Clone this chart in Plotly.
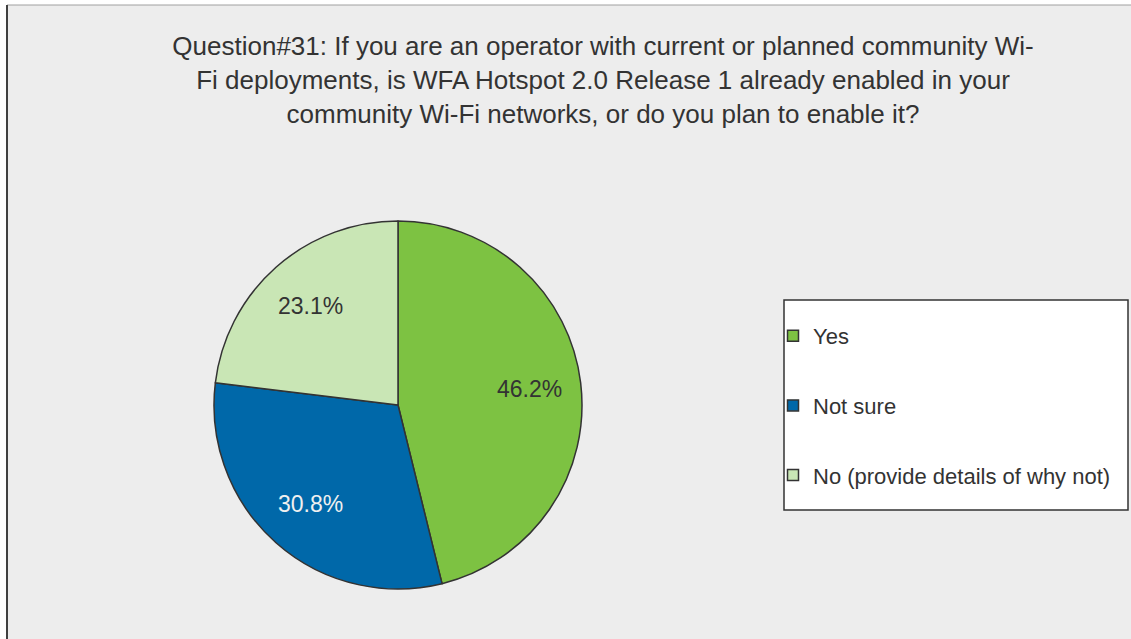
import math
import plotly.graph_objects as go

# ---- data ----
labels = ["Yes", "Not sure", "No (provide details of why not)"]
values = [46.2, 30.8, 23.1]
colors = ["#7DC242", "#0068A9", "#C9E6B5"]
text_colors = ["#333333", "#F0F0F0", "#333333"]
title_text = ("Question#31: If you are an operator with current or planned community Wi-<br>"
              "Fi deployments, is WFA Hotspot 2.0 Release 1 already enabled in your<br>"
              "community Wi-Fi networks, or do you plan to enable it?")

W, H = 1131, 639
FONT = "Liberation Sans, Arial, sans-serif"

def px_x(x):
    return x / W

def px_y(y):
    return 1 - y / H

cx, cy, r = 398, 405, 184

fig = go.Figure()
fig.add_trace(go.Pie(
    labels=labels,
    values=values,
    sort=False,
    direction="clockwise",
    rotation=0,
    marker=dict(colors=colors, line=dict(color="#333333", width=1.5)),
    textinfo="none",
    showlegend=False,
    hoverinfo="label+percent",
    domain=dict(x=[px_x(cx - r), px_x(cx + r)], y=[px_y(cy + r), px_y(cy - r)]),
))

# slice labels placed along each slice's bisector (derived from the values)
total = sum(values)
annotations = []
cum = 0.0
for v, tc in zip(values, text_colors):
    mid = (cum + v / 2) / total * 2 * math.pi
    cum += v
    lx = cx + 0.72 * r * math.sin(mid)
    ly = cy - 0.72 * r * math.cos(mid)
    annotations.append(dict(
        x=px_x(lx), y=px_y(ly), xref="paper", yref="paper",
        text=f"{v:.1f}%", showarrow=False, xanchor="center", yanchor="middle",
        font=dict(family=FONT, size=23, color=tc),
    ))

# legend entries (one group each so they can be spaced apart)
for lab, col in zip(labels, colors):
    fig.add_trace(go.Scatter(
        x=[None], y=[None], mode="markers", name=lab,
        legendgroup=lab,
        marker=dict(symbol="square", size=11, color=col,
                    line=dict(color="#333333", width=1.5)),
    ))

shapes = [
    dict(type="rect", xref="paper", yref="paper", x0=px_x(7), x1=1, y0=0, y1=px_y(5),
         fillcolor="#EDEDED", line=dict(width=0), layer="below"),
    dict(type="line", xref="paper", yref="paper", x0=px_x(7), x1=1, y0=px_y(5), y1=px_y(5),
         line=dict(color="#A0A0A0", width=1), layer="below"),
    dict(type="line", xref="paper", yref="paper", x0=px_x(7), x1=px_x(7), y0=0, y1=px_y(5),
         line=dict(color="#404040", width=2), layer="below"),
    dict(type="rect", xref="paper", yref="paper", x0=px_x(784), x1=px_x(1128),
         y0=px_y(510), y1=px_y(300),
         fillcolor="#FFFFFF", line=dict(color="#333333", width=1.5), layer="below"),
]

fig.update_layout(
    width=W, height=H,
    margin=dict(l=0, r=0, t=0, b=0),
    paper_bgcolor="#FFFFFF",
    plot_bgcolor="rgba(0,0,0,0)",
    shapes=shapes,
    annotations=annotations,
    xaxis=dict(visible=False),
    yaxis=dict(visible=False),
    title=dict(text=title_text, x=px_x(603), xanchor="center",
               y=px_y(55), yanchor="top",
               font=dict(family=FONT, size=26, color="#333333")),
    legend=dict(x=px_x(773), y=px_y(315), xanchor="left", yanchor="top",
                bgcolor="rgba(0,0,0,0)", borderwidth=0,
                font=dict(family=FONT, size=22, color="#333333"),
                tracegroupgap=38, traceorder="grouped"),
    showlegend=True,
)

fig.write_html("out.html", config={"displayModeBar": False},
               post_script="document.body.style.margin='0px';")
